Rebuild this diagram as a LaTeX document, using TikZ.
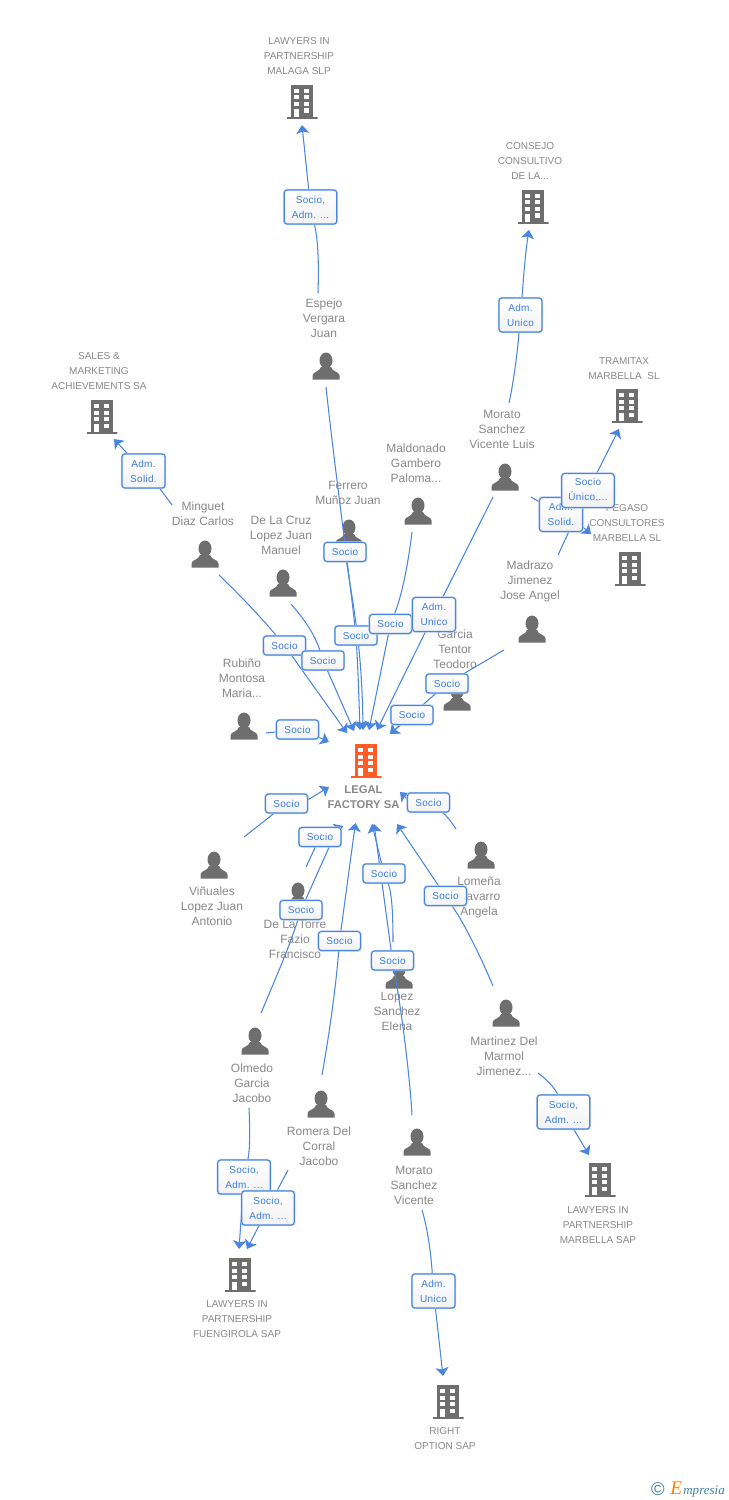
\documentclass[tikz,border=0pt]{standalone}
\usepackage{fontspec}
\setmainfont{Liberation Sans}
\newfontfamily\tagfont[LetterSpace=3]{Liberation Sans}
\newfontfamily\markfont{Liberation Serif}
\usepackage{tikz}
\usetikzlibrary{arrows.meta}
\pgfdeclarelayer{icons}
\pgfdeclarelayer{links}
\pgfsetlayers{icons,links,main}
\definecolor{iconcol}{HTML}{6E6E6E}
\definecolor{textcol}{HTML}{888888}
\definecolor{linkcol}{HTML}{4A86E0}
\definecolor{tagcol}{HTML}{3B7DE0}
\definecolor{mainorange}{HTML}{FF5C26}
\definecolor{markteal}{HTML}{3F7F9F}
\def\personicon{\begin{scope}[shift={(path picture bounding box.center)}]
	\fill[iconcol] (0,-5.5) ellipse [x radius=6.5, y radius=8];
	\fill[iconcol] (-13.5,13.5) -- (-13.5,9.5) .. controls (-13.5,5.5) and (-6,6) .. (-5,1) -- (5,1) .. controls (6,6) and (13.5,5.5) .. (13.5,9.5) -- (13.5,13.5) -- cycle;
\end{scope}}
\def\buildingicon#1{\begin{scope}[shift={(path picture bounding box.center)}]
	\fill[#1] (-11,-17) rectangle (11,15);
	\fill[#1] (-15.5,15) rectangle (15.5,17.3);
	\foreach \winy in {-13,-6.5,0} {
		\fill[white] (-8,\winy) rectangle (-3,\winy+4);
		\fill[white] (2,\winy) rectangle (7,\winy+4);
	}
	\fill[white] (-8,7) rectangle (-3,15);
	\fill[white] (2,6.5) rectangle (7,11);
\end{scope}}
\tikzset{
	person/.style={inner sep=0, minimum width=0.54cm, minimum height=0.54cm, path picture={\personicon}},
	building/.style={inner sep=0, minimum width=0.62cm, minimum height=0.69cm, path picture={\buildingicon{#1}}},
	building/.default=iconcol,
	caption/.style={text=textcol, align=center, inner sep=0, font=\fontsize{6.83}{8.54}\selectfont},
	capcaption/.style={caption, font=\fontsize{5.7}{8.54}\selectfont},
	tag/.style={rounded corners=0.06cm, draw=linkcol, line width=0.65pt, top color=white, bottom color=black!5, align=center, inner sep=0, text=tagcol, font=\tagfont\fontsize{5.7}{8.54}\selectfont, preaction={draw=linkcol!35, line width=1.4pt}},
	onetag/.style={tag, minimum width=0.84cm, minimum height=0.38cm},
	twotag/.style={tag, minimum width=1.05cm, minimum height=0.68cm},
	unitag/.style={tag, minimum width=0.86cm, minimum height=0.68cm},
	link/.style={draw=linkcol, line width=0.6pt},
	arrowlink/.style={link, -{Stealth[length=1.7mm, width=2.6mm, inset=0.4mm]}}
}
\begin{document}
\begin{tikzpicture}[x=0.02cm, y=-0.02cm]
	\useasboundingbox (0,0) rectangle (728,1500);

	%%%%% BUILDINGS AND PEOPLE %%%%%
	\begin{pgfonlayer}{icons}
	\node[building] (malaga) at (302,102) {};
	\node[building] (consejo) at (533,207) {};
	\node[building] (tramitax) at (627,406) {};
	\node[building] (sales) at (102,417) {};
	\node[building] (pegaso) at (630,569) {};
	\node[building=mainorange] (legal) at (366,761) {};
	\node[building] (marbella) at (600,1180) {};
	\node[building] (fuengirola) at (240,1275) {};
	\node[building] (rightoption) at (448,1402) {};

	\node[person] (espejo) at (326,366) {};
	\node[person] (moratoluis) at (505,477) {};
	\node[person] (maldonado) at (418,511) {};
	\node[person] (ferrero) at (349,533) {};
	\node[person] (minguet) at (205,554) {};
	\node[person] (cruz) at (283,583) {};
	\node[person] (madrazo) at (532,629) {};
	\node[person] (garcia) at (457,697) {};
	\node[person] (rubino) at (244,726) {};
	\node[person] (lomena) at (481,855) {};
	\node[person] (vinuales) at (214,865) {};
	\node[person] (torre) at (298,896) {};
	\node[person] (lopez) at (399,975) {};
	\node[person] (martinez) at (506,1013) {};
	\node[person] (olmedo) at (255,1041) {};
	\node[person] (romera) at (321,1104) {};
	\node[person] (moratovic) at (417,1142) {};

	\node[capcaption] (tmalaga) at (299,56) {LAWYERS IN\\PARTNERSHIP\\MALAGA SLP};
	\node[capcaption] (tconsejo) at (530,161) {CONSEJO\\CONSULTIVO\\DE LA...};
	\node[capcaption] (ttramitax) at (624,368.5) {TRAMITAX\\MARBELLA\ \ SL};
	\node[capcaption] (tsales) at (99,371) {SALES \&\\MARKETING\\ACHIEVEMENTS SA};
	\node[capcaption] (tpegaso) at (627,523) {PEGASO\\CONSULTORES\\MARBELLA SL};
	\node[caption, font=\bfseries\fontsize{6.4}{8.54}\selectfont] (tlegal) at (363.5,797) {LEGAL\\FACTORY SA};
	\node[capcaption] (tmarbella) at (598,1225) {LAWYERS IN\\PARTNERSHIP\\MARBELLA SAP};
	\node[capcaption] (tfuengirola) at (237,1319) {LAWYERS IN\\PARTNERSHIP\\FUENGIROLA SAP};
	\node[capcaption] (trightoption) at (445,1438.5) {RIGHT\\OPTION SAP};

	\node[caption] (tespejo) at (324,318) {Espejo\\Vergara\\Juan};
	\node[caption] (tmoratoluis) at (502,429) {Morato\\Sanchez\\Vicente Luis};
	\node[caption] (tmaldonado) at (416,463) {Maldonado\\Gambero\\Paloma...};
	\node[caption] (tferrero) at (348,492.5) {Ferrero\\Muñoz Juan};
	\node[caption] (tminguet) at (203,513.5) {Minguet\\Diaz Carlos};
	\node[caption] (tcruz) at (281,535) {De La Cruz\\Lopez Juan\\Manuel};
	\node[caption] (tmadrazo) at (530,581) {Madrazo\\Jimenez\\Jose Angel};
	\node[caption] (tgarcia) at (455,649) {Garcia\\Tentor\\Teodoro};
	\node[caption] (trubino) at (242,678) {Rubiño\\Montosa\\Maria...};
	\node[caption] (tlomena) at (479,897) {Lomeña\\Navarro\\Angela};
	\node[caption] (tvinuales) at (212,906) {Viñuales\\Lopez Juan\\Antonio};
	\node[caption] (ttorre) at (295,939) {De La Torre\\Fazio\\Francisco};
	\node[caption] (tlopez) at (397,1011) {Lopez\\Sanchez\\Elena};
	\node[caption] (tmartinez) at (504,1056) {Martinez Del\\Marmol\\Jimenez...};
	\node[caption] (tolmedo) at (252,1083) {Olmedo\\Garcia\\Jacobo};
	\node[caption] (tromera) at (319,1146) {Romera Del\\Corral\\Jacobo};
	\node[caption] (tmoratovic) at (414,1185) {Morato\\Sanchez\\Vicente};

	\node[inner sep=0, text=markteal, font=\fontsize{10.5}{12}\selectfont] (markc) at (658,1489) {©};
	\node[inner sep=0, anchor=base west, text=orange, font=\markfont\itshape\fontsize{11}{12}\selectfont] (marke) at (670,1494) {E};
	\node[inner sep=0, anchor=base west, text=markteal, font=\markfont\itshape\fontsize{7.4}{10}\selectfont] (markt) at (683,1494) {mpresia};
	\end{pgfonlayer}

	%%%%% TAGS %%%%%
	\node[twotag] (sMalaga) at (310.5,207) {Socio,\\Adm. ...};
	\node[unitag] (sConsejo) at (520.5,315) {Adm.\\Unico};
	\node[unitag] (sSales) at (143.5,471) {Adm.\\Solid.};
	\node[unitag] (sPegaso) at (561,514.5) {Adm.\\Solid.};
	\node[twotag] (sTramitax) at (588,490.5) {Socio\\Único,...};
	\node[onetag] (sFerrero) at (345,552) {Socio};
	\node[onetag] (sEspejo) at (356,635.5) {Socio};
	\node[onetag] (sMaldonado) at (390.5,624) {Socio};
	\node[unitag] (sMoratoluis) at (434,614.5) {Adm.\\Unico};
	\node[onetag] (sMinguet) at (284.5,645.5) {Socio};
	\node[onetag] (sCruz) at (323,660.5) {Socio};
	\node[onetag] (sGarcia) at (412,715) {Socio};
	\node[onetag] (sMadrazo) at (447,683.5) {Socio};
	\node[onetag] (sRubino) at (297.5,729.5) {Socio};
	\node[onetag] (sVinuales) at (286.5,803.5) {Socio};
	\node[onetag] (sLomena) at (428.5,802.5) {Socio};
	\node[onetag] (sTorre) at (320,837) {Socio};
	\node[onetag] (sLopez) at (384,873.5) {Socio};
	\node[onetag] (sMartinez) at (445.5,896) {Socio};
	\node[onetag] (sOlmedo) at (301,910) {Socio};
	\node[onetag] (sRomera) at (339.5,941) {Socio};
	\node[onetag] (sMoratovic) at (392.5,960.5) {Socio};
	\node[twotag] (sMarbella) at (563.5,1112) {Socio,\\Adm. ...};
	\node[twotag] (sOlmfuen) at (244,1177) {Socio,\\Adm. ...};
	\node[twotag] (sRomfuen) at (268,1208) {Socio,\\Adm. ...};
	\node[unitag] (sRight) at (433.5,1291) {Adm.\\Unico};

	%%%%% FREE ENDS %%%%%
	\coordinate (outEspejoUp) at (318,293);
	\coordinate (inMalaga) at (302,125);
	\coordinate (outEspejo) at (326,387);
	\coordinate (outLuisUp) at (509,403);
	\coordinate (inConsejo) at (529,230);
	\coordinate (outMinguetUp) at (172,505);
	\coordinate (inSales) at (114,439);
	\coordinate (outMinguet) at (219,575);
	\coordinate (outCruz) at (291,604);
	\coordinate (outMaldonado) at (412,532);
	\coordinate (outLuis) at (493,497);
	\coordinate (outLuisRight) at (531,497);
	\coordinate (inPegaso) at (591,534);
	\coordinate (outMadrazoUp) at (558,555);
	\coordinate (inTramitax) at (619,429);
	\coordinate (outMadrazo) at (504,650);
	\coordinate (outRubino) at (266,733);
	\coordinate (outVinuales) at (244,837);
	\coordinate (outLomena) at (456,829);
	\coordinate (outTorre) at (306,867);
	\coordinate (outOlmedo) at (261,1013);
	\coordinate (outRomera) at (322,1075);
	\coordinate (outMoratovic) at (412,1115);
	\coordinate (outMartinez) at (493,986);
	\coordinate (outLopez) at (393,942);
	\coordinate (outMartinezDown) at (538,1073);
	\coordinate (inMarbella) at (589,1155);
	\coordinate (outOlmedoDown) at (249,1108);
	\coordinate (outRomeraDown) at (288,1170);
	\coordinate (inFuenA) at (239,1249);
	\coordinate (inFuenB) at (247,1249);
	\coordinate (outMoratoDown) at (422,1210);
	\coordinate (inRight) at (443,1376);
	\coordinate (inTopA) at (347,733);
	\coordinate (inTopB) at (354,731);
	\coordinate (inTopC) at (360,730);
	\coordinate (inTopD) at (363,730);
	\coordinate (inTopE) at (369,730);
	\coordinate (inTopF) at (377,730);
	\coordinate (inTopG) at (390,734);
	\coordinate (inLeftA) at (329,742);
	\coordinate (inLeftB) at (329,787);
	\coordinate (inRightB) at (400,792);
	\coordinate (inBotA) at (343,826);
	\coordinate (inBotB) at (339,825);
	\coordinate (inBotC) at (355.5,823);
	\coordinate (inBotD) at (372,824);
	\coordinate (inBotE) at (374,824);
	\coordinate (inBotF) at (397,824);

	%%%%% CONNECTORS %%%%%
	\begin{pgfonlayer}{links}
	\draw[link] (outEspejoUp) .. controls (319,262) and (318,240) .. (sMalaga);
	\draw[arrowlink] (sMalaga) -- (inMalaga);
	\draw[link] (outLuisUp) .. controls (515,375) and (518,345) .. (sConsejo);
	\draw[arrowlink] (sConsejo) .. controls (523,285) and (525,255) .. (inConsejo);
	\draw[link] (outMinguetUp) .. controls (165,495) and (155,483) .. (sSales);
	\draw[arrowlink] (sSales) -- (inSales);
	\draw[link] (outLuisRight) -- (sPegaso);
	\draw[arrowlink] (sPegaso.330) -- (inPegaso);
	\draw[link] (outMadrazoUp) -- (sTramitax);
	\draw[arrowlink] (sTramitax) -- (inTramitax);

	\draw[link] (outEspejo) .. controls (335,470) and (345,540) .. (sEspejo);
	\draw[arrowlink] (sEspejo) .. controls (358,670) and (359,700) .. (inTopC);
	\draw[arrowlink] (sFerrero) .. controls (354,610) and (362,650) .. (inTopD);
	\draw[link] (outMaldonado) .. controls (408,565) and (402,595) .. (sMaldonado);
	\draw[arrowlink] (sMaldonado) -- (inTopE);
	\draw[link] (outLuis) -- (sMoratoluis);
	\draw[arrowlink] (sMoratoluis) -- (inTopF);
	\draw[link] (outMinguet) .. controls (245,600) and (265,622) .. (sMinguet);
	\draw[arrowlink] (sMinguet) -- (inTopA);
	\draw[link] (outCruz) .. controls (305,620) and (315,635) .. (sCruz);
	\draw[arrowlink] (sCruz) -- (inTopB);
	\draw[link] (outMadrazo) -- (sMadrazo);
	\draw[arrowlink] (sMadrazo) -- (inTopG);
	\draw[arrowlink] (sGarcia) -- (inTopG);
	\draw[link] (outRubino) -- (sRubino);
	\draw[arrowlink] (sRubino.340) -- (inLeftA);

	\draw[link] (outVinuales) -- (sVinuales);
	\draw[arrowlink] (sVinuales.10) -- (inLeftB);
	\draw[link] (outLomena) .. controls (450,820) and (446,815) .. (sLomena);
	\draw[arrowlink] (sLomena.170) -- (inRightB);
	\draw[link] (outTorre) -- (sTorre);
	\draw[arrowlink] (sTorre) -- (inBotA);
	\draw[link] (outOlmedo) .. controls (275,980) and (290,945) .. (sOlmedo);
	\draw[arrowlink] (sOlmedo) -- (inBotB);
	\draw[link] (outRomera) .. controls (330,1030) and (336,985) .. (sRomera);
	\draw[arrowlink] (sRomera) -- (inBotC);
	\draw[link] (outLopez) .. controls (393,915) and (392,893) .. (sLopez);
	\draw[arrowlink] (sLopez) -- (inBotD);
	\draw[link] (outMoratovic) .. controls (410,1080) and (403,1020) .. (sMoratovic);
	\draw[arrowlink] (sMoratovic) -- (inBotE);
	\draw[link] (outMartinez) .. controls (480,955) and (465,925) .. (sMartinez);
	\draw[arrowlink] (sMartinez) -- (inBotF);

	\draw[link] (outMartinezDown) .. controls (548,1080) and (556,1090) .. (sMarbella);
	\draw[arrowlink] (sMarbella) -- (inMarbella);
	\draw[link] (outOlmedoDown) .. controls (250,1130) and (250,1150) .. (sOlmfuen);
	\draw[arrowlink] (sOlmfuen) -- (inFuenA);
	\draw[link] (outRomeraDown) -- (sRomfuen);
	\draw[arrowlink] (sRomfuen) -- (inFuenB);
	\draw[link] (outMoratoDown) .. controls (428,1230) and (431,1255) .. (sRight);
	\draw[arrowlink] (sRight) -- (inRight);
	\end{pgfonlayer}
\end{tikzpicture}
\end{document}
